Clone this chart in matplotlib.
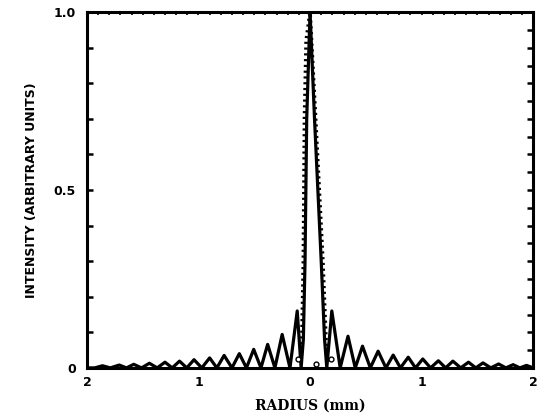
import matplotlib
matplotlib.use("Agg")
import matplotlib.pyplot as plt
from matplotlib.ticker import MultipleLocator

# solid curve (calculated profile): peaks and zeros
radius = [-2.0, -1.93, -1.86, -1.79, -1.71, -1.645, -1.58, -1.51, -1.44, -1.37,
          -1.30, -1.235, -1.17, -1.105, -1.04, -0.97, -0.90, -0.835, -0.77, -0.70,
          -0.634, -0.57, -0.505, -0.44, -0.38, -0.315, -0.25, -0.18, -0.115, -0.08,
          -0.06, -0.045, -0.03, 0.0, 0.04, 0.10, 0.13, 0.15,
          0.195, 0.27, 0.34, 0.405, 0.47, 0.54, 0.61, 0.68, 0.745, 0.81,
          0.88, 0.945, 1.01, 1.08, 1.15, 1.215, 1.28, 1.35, 1.42, 1.485,
          1.55, 1.62, 1.69, 1.755, 1.82, 1.88, 1.94, 2.0]
intensity = [0.0, 0.0, 0.006, 0.0, 0.008, 0.0, 0.010, 0.0, 0.013, 0.0,
             0.016, 0.0, 0.019, 0.0, 0.023, 0.0, 0.028, 0.0, 0.035, 0.0,
             0.040, 0.0, 0.052, 0.0, 0.066, 0.0, 0.094, 0.0, 0.160, 0.0,
             0.08, 0.30, 0.70, 1.0, 0.70, 0.30, 0.08, 0.0,
             0.160, 0.0, 0.089, 0.0, 0.061, 0.0, 0.047, 0.0, 0.036, 0.0,
             0.030, 0.0, 0.025, 0.0, 0.020, 0.0, 0.019, 0.0, 0.016, 0.0,
             0.014, 0.0, 0.011, 0.0, 0.009, 0.0, 0.007, 0.0]

# dotted curve along the central lobe (measured)
meas_r = [-0.075, -0.06, -0.05, -0.035, 0.0, 0.05, 0.115, 0.145]
meas_i = [0.05, 0.30, 0.70, 0.92, 1.0, 0.70, 0.30, 0.06]

# open circles at the first minima
circ_r = [-0.105, 0.055, 0.19]
circ_i = [0.025, 0.012, 0.025]

fig = plt.figure(figsize=(5.43, 4.19), dpi=100)
ax = fig.add_axes([0.160, 0.122, 0.822, 0.849])

ax.plot(radius, intensity, color='black', lw=2.3, solid_joinstyle='round')
ax.plot(meas_r, meas_i, color='black', lw=2.6, linestyle=(0, (0.6, 1.0)))
ax.plot(circ_r, circ_i, 'o', ms=3.5, mfc='white', mec='black', mew=1.0)

ax.set_xlim(-2, 2)
ax.set_ylim(0, 1.0)

for s in ax.spines.values():
    s.set_linewidth(2.2)

ax.set_xticks([-2, -1, 0, 1, 2])
ax.set_xticklabels(['2', '1', '0', '1', '2'])
ax.set_yticks([0, 0.5, 1.0])
ax.set_yticklabels(['0', '0.5', '1.0'])
ax.yaxis.set_minor_locator(MultipleLocator(0.1))
ax.tick_params(axis='x', length=0, pad=6, labelsize=9)
ax.tick_params(axis='y', which='both', direction='in', length=4, width=1.8,
               labelsize=9, pad=8)
for lab in ax.get_xticklabels() + ax.get_yticklabels():
    lab.set_fontweight('bold')

# right side ticks every 0.05, top ticks every 0.1
right = ax.secondary_yaxis('right')
right.yaxis.set_major_locator(MultipleLocator(0.05))
right.tick_params(direction='in', length=4, width=1.8, labelright=False)
top = ax.secondary_xaxis('top')
top.xaxis.set_major_locator(MultipleLocator(0.1))
top.tick_params(direction='in', length=2, width=1.2, labeltop=False)

ax.set_xlabel('RADIUS (mm)', fontsize=10, fontweight='bold', family='DejaVu Serif', labelpad=7)
ax.set_ylabel('INTENSITY (ARBITRARY UNITS)', fontsize=9, fontweight='bold', labelpad=11)

fig.savefig('out.png', dpi=100)
